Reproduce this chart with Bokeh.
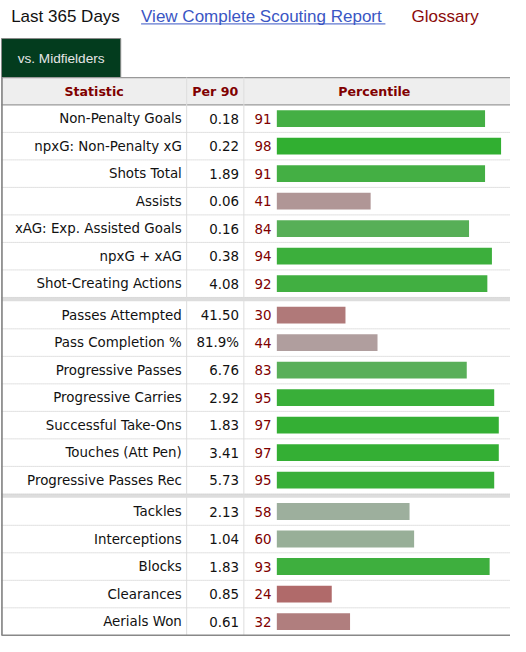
from bokeh.plotting import figure
from bokeh.models import Range1d
from bokeh.core.properties import value
from bokeh.embed import file_html
from bokeh.resources import INLINE

# ---------------- data ----------------
stats = ["Non-Penalty Goals", "npxG: Non-Penalty xG", "Shots Total", "Assists",
         "xAG: Exp. Assisted Goals", "npxG + xAG", "Shot-Creating Actions",
         "Passes Attempted", "Pass Completion %", "Progressive Passes",
         "Progressive Carries", "Successful Take-Ons", "Touches (Att Pen)",
         "Progressive Passes Rec",
         "Tackles", "Interceptions", "Blocks", "Clearances", "Aerials Won"]
per90 = ["0.18", "0.22", "1.89", "0.06", "0.16", "0.38", "4.08",
         "41.50", "81.9%", "6.76", "2.92", "1.83", "3.41", "5.73",
         "2.13", "1.04", "1.83", "0.85", "0.61"]
percentile = [91, 98, 91, 41, 84, 94, 92,
              30, 44, 83, 95, 97, 97, 95,
              58, 60, 93, 24, 32]
group_sizes = [7, 7, 5]
headers = ["Statistic", "Per 90", "Percentile"]
title_left = "Last 365 Days"
title_link = "View Complete Scouting Report"
title_right = "Glossary"
tab_label = "vs. Midfielders"

# ---------------- layout / style ----------------
W_REF, H_REF = 526, 652
HEADER_TOP, HEADER_BOTTOM = 79, 107
ROW_H = 28.2
BAND = 4.0
TABLE_LEFT = 1
COL1, COL2 = 192, 251
BAR_ORIGIN = 285
PX_PER_PCT = 2.36
LABEL_FONT = value("DejaVu Sans")
TITLE_FONT = value("Liberation Sans")
DARK_RED = "#800000"


def bar_color(p):
    if p >= 50:
        r = 152 - 2.7 * (p - 60)
        r = max(40, min(185, r))
        g = 175
        return "#%02x%02x%02x" % (int(r), g, int(r))
    gb = 106 + 2.6 * (p - 24)
    gb = max(80, min(175, gb))
    return "#%02x%02x%02x" % (176, int(gb), int(gb))


# row geometry
group_of = []
for gi, n in enumerate(group_sizes):
    group_of += [gi] * n
tops = [HEADER_BOTTOM + i * ROW_H + group_of[i] * BAND for i in range(len(stats))]
centers = [t + ROW_H / 2 for t in tops]
bottoms = [t + ROW_H for t in tops]
table_bottom = bottoms[-1]

p = figure(width=510, height=636,
           x_range=Range1d(0, W_REF), y_range=Range1d(H_REF, 0),
           x_axis_type=None, y_axis_type=None,
           output_backend="svg", toolbar_location=None, min_border=0)
p.grid.visible = False
p.outline_line_color = None
p.background_fill_color = "white"
p.extra_x_ranges = {"pct": Range1d(-BAR_ORIGIN / PX_PER_PCT, (W_REF - BAR_ORIGIN) / PX_PER_PCT)}

# ---- top titles ----
p.text(x=[11], y=[16.5], text=[title_left], text_font=TITLE_FONT, text_font_size="17px",
       text_baseline="middle", text_color="#111111")
p.text(x=[145], y=[16.5], text=[title_link], text_font=TITLE_FONT, text_font_size="17px",
       text_baseline="middle", text_color="#3a56c4")
p.segment(x0=[145], x1=[397], y0=[24], y1=[24], line_color="#3a56c4", line_width=1)
p.text(x=[424], y=[16.5], text=[title_right], text_font=TITLE_FONT, text_font_size="17px",
       text_baseline="middle", text_color="#8b0a0a")

# ---- tab ----
p.quad(left=[1], right=[124], top=[39], bottom=[HEADER_TOP], fill_color="#033c1e",
       line_color="#8a8a8a", line_width=1)
p.text(x=[62.5], y=[59], text=[tab_label], text_font=TITLE_FONT, text_font_size="13.6px",
       text_align="center", text_baseline="middle", text_color="#e6e6e6")

# ---- header ----
p.quad(left=[TABLE_LEFT], right=[W_REF], top=[HEADER_TOP], bottom=[HEADER_BOTTOM],
       fill_color="#eeeeee", line_color=None)
p.segment(x0=[TABLE_LEFT, TABLE_LEFT], x1=[W_REF, W_REF], y0=[HEADER_TOP, HEADER_BOTTOM],
          y1=[HEADER_TOP, HEADER_BOTTOM], line_color="#999999", line_width=1.3)
p.text(x=[(TABLE_LEFT + COL1) / 2, (COL1 + COL2) / 2, (COL2 + W_REF) / 2 - 3],
       y=[93.5] * 3, text=headers, text_font=LABEL_FONT, text_font_style="bold",
       text_font_size="12.6px", text_align="center", text_baseline="middle",
       text_color=DARK_RED)

# ---- group separator bands ----
band_tops, band_bots = [], []
idx = 0
for gi, n in enumerate(group_sizes[:-1]):
    idx += n
    band_tops.append(bottoms[idx - 1])
    band_bots.append(bottoms[idx - 1] + BAND)
p.quad(left=[TABLE_LEFT] * len(band_tops), right=[W_REF] * len(band_tops),
       top=band_tops, bottom=band_bots, fill_color="#dddddd", line_color=None)

# ---- dotted row lines ----
dot_y = bottoms[:-1]
p.segment(x0=[TABLE_LEFT] * len(dot_y), x1=[W_REF] * len(dot_y), y0=dot_y, y1=dot_y,
          line_color="#c4c4c4", line_width=1, line_dash="1 1")

# ---- column lines ----
p.segment(x0=[COL1, COL2], x1=[COL1, COL2], y0=[HEADER_TOP] * 2, y1=[table_bottom] * 2,
          line_color="#dddddd", line_width=1)
p.segment(x0=[TABLE_LEFT + 0.5], x1=[TABLE_LEFT + 0.5], y0=[HEADER_TOP], y1=[table_bottom],
          line_color="#808080", line_width=1.6)
p.segment(x0=[TABLE_LEFT], x1=[W_REF], y0=[table_bottom], y1=[table_bottom],
          line_color="#888888", line_width=1.6)

# ---- bars ----
colors = [bar_color(v) for v in percentile]
p.hbar(y=centers, left=0, right=percentile, height=17.3, fill_color=colors,
       line_color=None, x_range_name="pct")

# ---- row texts ----
p.text(x=[187] * len(stats), y=centers, text=stats, text_font=LABEL_FONT,
       text_font_size="13.4px", text_align="right", text_baseline="middle",
       text_color="#111111")
p.text(x=[246] * len(per90), y=centers, text=per90, text_font=LABEL_FONT,
       text_font_size="13.4px", text_align="right", text_baseline="middle",
       text_color="#111111")
p.text(x=[279.5] * len(percentile), y=centers, text=[str(v) for v in percentile],
       text_font=LABEL_FONT, text_font_size="13.4px", text_align="right",
       text_baseline="middle", text_color=DARK_RED)

open("out.html", "w").write(file_html(p, INLINE))
